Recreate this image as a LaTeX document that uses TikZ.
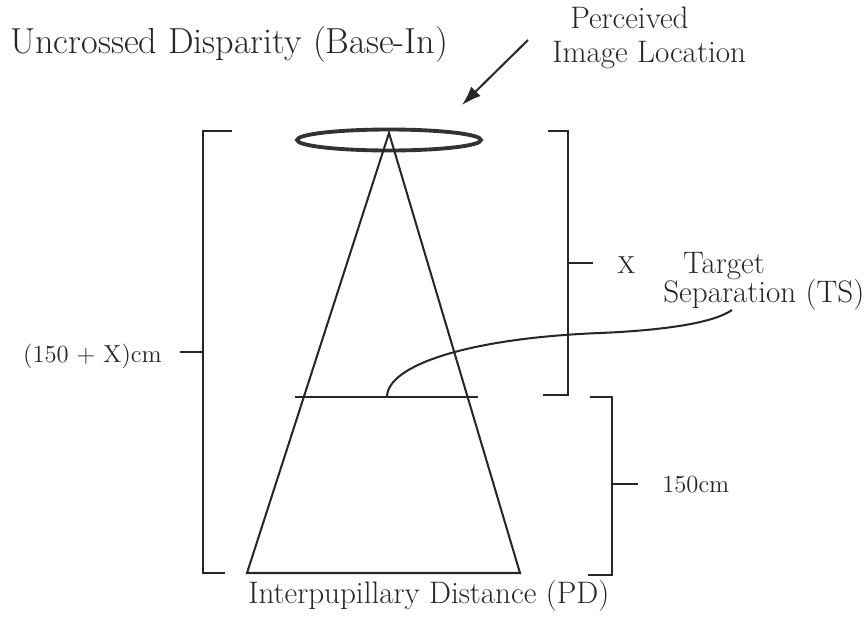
\documentclass[tikz,border=0pt]{standalone}
\usepackage{tikz}
\usetikzlibrary{arrows.meta, positioning, shapes.geometric}

\begin{document}
\begin{tikzpicture}[x=0.02cm, y=-0.02cm,
        every node/.style={inner sep=0pt, text=black!85},
        ttl/.style={font=\fontsize{20.6}{23}\selectfont},
        lbl/.style={font=\fontsize{17.7}{20}\selectfont},
        dims/.style={font=\fontsize{14}{17}\selectfont},
        ln/.style={black!85, line width=1.15pt},
        brk/.style={black!85, line width=1.15pt},
        ring/.style={ellipse, draw=black!80, line width=2.2pt, minimum width=3.68cm, minimum height=0.42cm},
        arr/.style={-{Latex[length=11pt, width=7.5pt]}, black!85, line width=1.15pt}
    ]
        \useasboundingbox (0,0) rectangle (866,616);

        % Texts
        \node[ttl, anchor=base west] (title) at (10,53) {Uncrossed Disparity (Base-In)};
        \node[lbl, anchor=base west] (perc) at (570,28) {Perceived};
        \node[lbl, anchor=base west] (loc)  at (552,62) {Image Location};
        \node[dims, anchor=base east] (total) at (162,362) {(150 + X)cm};
        \node[dims, anchor=base west] (xlab)  at (617,273) {X};
        \node[lbl, anchor=base] (targ) at (724,273) {Target};
        \node[lbl, anchor=base west] (sep)  at (663,302) {Separation (TS)};
        \node[dims, anchor=base west] (near) at (662,492) {150cm};
        \node[lbl, anchor=base west] (pd)   at (248,603) {Interpupillary Distance (PD)};

        % Perceived image and arrow
        \node[ring] (img) at (389,140) {};
        \coordinate (arrtail) at (528,40);
        \coordinate (arrtip)  at (462,105);
        \draw[arr] (arrtail) -- (arrtip);

        % Triangle of sight lines
        \coordinate (apex) at (389,133);
        \coordinate (bl) at (247,573);
        \coordinate (br) at (520,573);
        \draw[ln] (bl) -- (apex) -- (br) -- cycle;

        % Target plane and its leader
        \coordinate (tsl) at (295,397);
        \coordinate (tsr) at (478,397);
        \coordinate (tsmid) at (387,397);
        \coordinate (tsend) at (732,310);
        \draw[ln] (tsl) -- (tsr);
        \draw[ln] (tsmid) .. controls (387,365) and (470,338) .. (600,333)
                          .. controls (670,330) and (715,322) .. (tsend);

        % Brackets
        \draw[brk] (232,131) -- (203,131) -- (203,573) -- (225,573);
        \draw[brk] (180,352) -- (203,352);
        \draw[brk] (548,131) -- (568,131) -- (568,395) -- (543,395);
        \draw[brk] (568,263) -- (593,263);
        \draw[brk] (590,397) -- (612,397) -- (612,575) -- (588,575);
        \draw[brk] (612,484) -- (638,484);
    \end{tikzpicture}
\end{document}
